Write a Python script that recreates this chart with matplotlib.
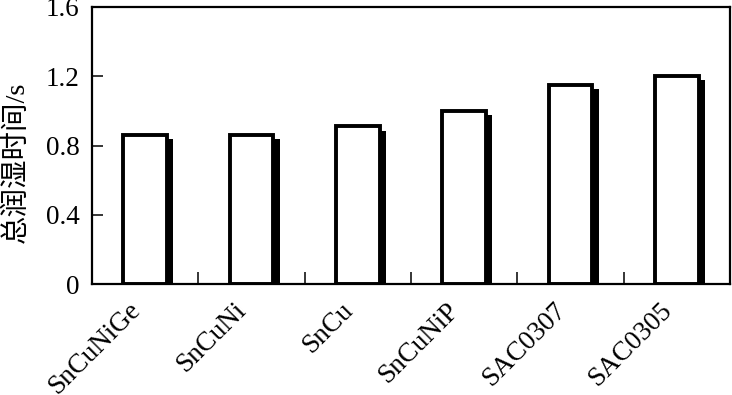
import matplotlib
matplotlib.use('Agg')
import matplotlib.pyplot as plt
import matplotlib.patheffects as pe
import numpy as np

# total wetting time per solder alloy
alloys = ["SnCuNiGe", "SnCuNi", "SnCu", "SnCuNiP", "SAC0307", "SAC0305"]
wet_time = [0.86, 0.86, 0.91, 1.00, 1.15, 1.20]
yticks = [0, 0.4, 0.8, 1.2, 1.6]
ytick_labels = ["0", "0.4", "0.8", "1.2", "1.6"]

plt.rcParams['font.family'] = ['Liberation Serif', 'Noto Sans CJK SC']
plt.rcParams['font.size'] = 19.5

fig = plt.figure(figsize=(7.32, 3.95), dpi=100)
ax = fig.add_axes([92 / 732, 1 - 284 / 395, 638 / 732, 277 / 395])

x = np.arange(len(alloys))
bars = ax.bar(x, wet_time, width=0.41, facecolor="white", edgecolor="black",
              linewidth=2.8, zorder=2)
# offset black drop shadow on each bar
for b in bars:
    b.set_path_effects([pe.SimplePatchShadow(offset=(4.5, -3), shadow_rgbFace="black",
                                             alpha=1.0),
                        pe.Normal()])

ax.set_xlim(-0.5, len(alloys) - 0.5)
ax.set_ylim(0, 1.6)

ax.set_yticks(yticks)
ax.set_yticklabels(ytick_labels)
ax.tick_params(axis="y", direction="in", length=8, width=1.1, pad=9)

ax.set_xticks(x)
ax.set_xticklabels(alloys, rotation=45, ha="right", va="top")
ax.set_xticks(x[:-1] + 0.5, minor=True)
ax.tick_params(axis="x", which="major", length=0, pad=10)
ax.tick_params(axis="x", which="minor", direction="in", length=9, width=1.1)

for s in ax.spines.values():
    s.set_linewidth(1.6)

ax.set_ylabel("总润湿时间/s", fontsize=20.5)
ax.yaxis.set_label_coords(-0.098, 0.44)

fig.savefig("out.png", dpi=100)
